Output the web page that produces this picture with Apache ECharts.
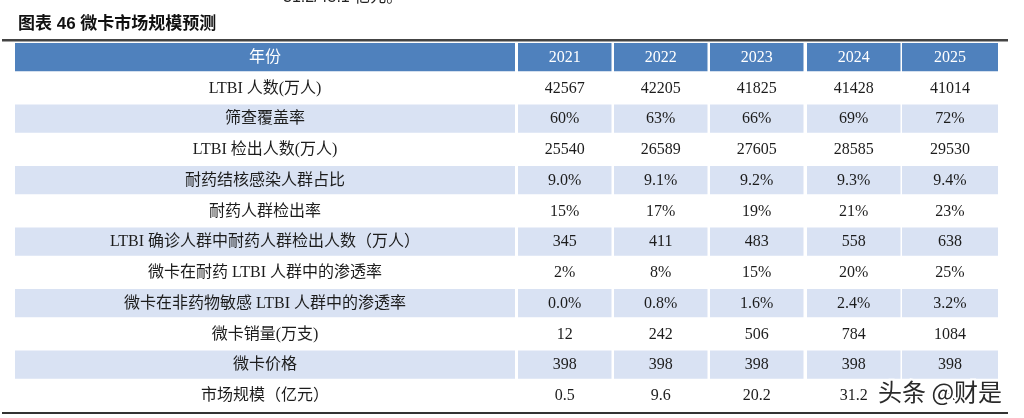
<!DOCTYPE html>
<html>
<head>
<meta charset="utf-8">
<script src="https://cdn.jsdelivr.net/npm/echarts@6/dist/echarts.min.js"></script>
<style>html,body{margin:0;padding:0;background:#fff;}#c{width:1024px;height:418px;}</style>
</head>
<body>
<div id="c"></div>
<script>
// ---- data ----
var headerLabel = '年份';
var years = ['2021', '2022', '2023', '2024', '2025'];
var rowLabels = [
  'LTBI 人数(万人)',
  '筛查覆盖率',
  'LTBI 检出人数(万人)',
  '耐药结核感染人群占比',
  '耐药人群检出率',
  'LTBI 确诊人群中耐药人群检出人数（万人）',
  '微卡在耐药 LTBI 人群中的渗透率',
  '微卡在非药物敏感 LTBI 人群中的渗透率',
  '微卡销量(万支)',
  '微卡价格',
  '市场规模（亿元）'
];
var ltbiPopulation = [42567, 42205, 41825, 41428, 41014];
var screeningCoverage = [60, 63, 66, 69, 72];            // %
var ltbiDetected = [25540, 26589, 27605, 28585, 29530];
var resistantShare = [9.0, 9.1, 9.2, 9.3, 9.4];          // %
var resistantDetectRate = [15, 17, 19, 21, 23];           // %
var resistantDetected = [345, 411, 483, 558, 638];
var penetrationResistant = [2, 8, 15, 20, 25];            // %
var penetrationNonSensitive = [0.0, 0.8, 1.6, 2.4, 3.2];  // %
var salesVolume = [12, 242, 506, 784, 1084];
var price = [398, 398, 398, 398, 398];
var marketSize = [0.5, 9.6, 20.2, 31.2, 45.1];

var rowValues = [ltbiPopulation, screeningCoverage, ltbiDetected, resistantShare,
  resistantDetectRate, resistantDetected, penetrationResistant, penetrationNonSensitive,
  salesVolume, price, marketSize];
var rowFormat = ['int', 'pct0', 'int', 'pct1', 'pct0', 'int', 'pct0', 'pct1', 'int', 'int', 'dec1'];

function fmt(v, f) {
  if (f === 'pct0') return v.toFixed(0) + '%';
  if (f === 'pct1') return v.toFixed(1) + '%';
  if (f === 'dec1') return v.toFixed(1);
  return String(v);
}

// ---- layout (styles, not data) ----
var colStart = [0, 503, 599, 695, 792, 887];
var colWidth = [500, 93.5, 93.5, 93.5, 93.5, 96];
var headerBlue = '#4f81bd';
var stripeBlue = '#d9e2f3';
var font = "'Liberation Serif', 'Noto Sans CJK SC', serif";

var categoriesY = [headerLabel].concat(rowLabels);
var cellData = [];
for (var r = 0; r < categoriesY.length; r++) {
  for (var c = 0; c < 6; c++) {
    var txt;
    if (r === 0) txt = c === 0 ? headerLabel : years[c - 1];
    else txt = c === 0 ? rowLabels[r - 1] : fmt(rowValues[r - 1][c - 1], rowFormat[r - 1]);
    cellData.push({ value: [c, r], text: txt });
  }
}

var chart = echarts.init(document.getElementById('c'), null, { renderer: 'canvas' });
chart.setOption({
  animation: false,
  backgroundColor: '#fff',
  title: {
    text: '图表 46 微卡市场规模预测',
    left: 13, top: 11,
    textStyle: { fontSize: 17, fontWeight: 'bold', color: '#111',
      fontFamily: "'Liberation Sans', 'Noto Sans CJK SC', sans-serif" }
  },
  grid: { left: 15, right: 26, top: 43, bottom: 6 },
  xAxis: { type: 'value', min: 0, max: 983, show: false },
  yAxis: { type: 'category', data: categoriesY, inverse: true, show: false },
  series: [{
    type: 'custom',
    data: cellData,
    renderItem: function (params, api) {
      var c = api.value(0), r = api.value(1);
      var p0 = api.coord([colStart[c], r]);
      var p1 = api.coord([colStart[c] + colWidth[c], r]);
      var band = api.size([0, 1])[1];
      var top = p0[1] - band / 2;
      var h = band - 2.5;
      var fill = r === 0 ? headerBlue : (r % 2 === 0 ? stripeBlue : '#ffffff');
      var item = cellData[params.dataIndex];
      return {
        type: 'group',
        children: [
          { type: 'rect', shape: { x: p0[0], y: top, width: p1[0] - p0[0], height: h },
            style: { fill: fill } },
          { type: 'text', x: (p0[0] + p1[0]) / 2, y: top + h / 2 + 0.5,
            style: { text: item.text, fill: r === 0 ? '#ffffff' : '#1c1c1c',
              font: '16px ' + font, align: 'center', verticalAlign: 'middle' } }
        ]
      };
    }
  }],
  graphic: [
    { type: 'text', left: 283, top: -10,
      style: { text: '31.2/45.1 亿元。', font: "16px 'Liberation Sans', 'Noto Sans CJK SC'", fill: '#222' } },
    { type: 'rect', shape: { x: 2, y: 39, width: 1006, height: 2.5 }, style: { fill: '#444' } },
    { type: 'rect', shape: { x: 2, y: 412, width: 1006, height: 2 }, style: { fill: '#333' } },
    { type: 'text', left: 876, top: 378, z: 100,
      style: { text: '头条 @财是', font: "24px 'Noto Sans CJK SC'", fill: '#2a2a2a',
        stroke: '#ffffff', lineWidth: 4 } }
  ]
});
</script>
</body>
</html>
